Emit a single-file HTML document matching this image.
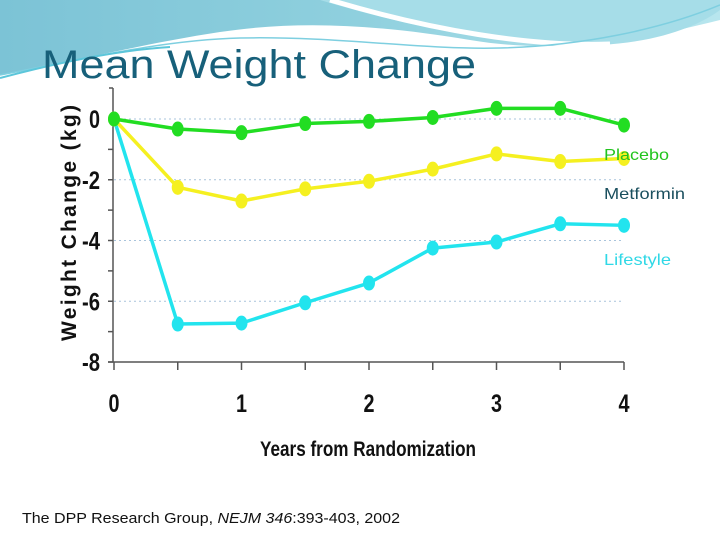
<!DOCTYPE html>
<html><head><meta charset="utf-8"><style>
html,body{margin:0;padding:0;background:#fff;}
svg{display:block;}
</style></head><body>
<svg width="720" height="540" viewBox="0 0 720 540" xmlns="http://www.w3.org/2000/svg">
  <defs>
    <linearGradient id="bg1" x1="0" y1="0" x2="1" y2="0">
      <stop offset="0" stop-color="#7cc3d6"/>
      <stop offset="0.5" stop-color="#8fd0de"/>
      <stop offset="1" stop-color="#b8e6ee"/>
    </linearGradient>
  </defs>
  <g>
    <path d="M0,0 H720 V20 C640,40 560,55 470,40 C380,25 300,20 220,32 C140,44 60,65 0,75 Z" fill="url(#bg1)"/>
    <path d="M320,0 C420,30 520,48 600,45 C660,42 700,25 720,10 V0 Z" fill="#a6dde8"/>
    <path d="M330,0 C430,30 530,47 610,44" stroke="#fff" stroke-width="5" fill="none"/>
    <path d="M0,75 C80,60 160,40 240,38 C340,36 420,50 500,48 C580,46 660,30 720,5" stroke="#7ecfe0" stroke-width="1.5" fill="none"/>
    <path d="M0,78 C60,62 120,50 170,47" stroke="#5cc6da" stroke-width="2" fill="none"/>
  </g>
  <text x="42" y="78" font-family="'Liberation Sans',sans-serif" font-size="40" fill="#17607a" textLength="434" lengthAdjust="spacingAndGlyphs">Mean Weight Change</text>

  <g id="chart"></g>

  <text x="22" y="523" font-family="'Liberation Sans',sans-serif" font-size="15" fill="#111" textLength="378" lengthAdjust="spacingAndGlyphs">The DPP Research Group, <tspan font-style="italic">NEJM 346</tspan>:393-403, 2002</text>
</svg>
<script>
const years = [0, 0.5, 1, 1.5, 2, 2.5, 3, 3.5, 4];
const placebo = [0, -0.33, -0.45, -0.15, -0.08, 0.05, 0.35, 0.35, -0.2];
const metformin = [0, -2.25, -2.7, -2.3, -2.05, -1.65, -1.15, -1.4, -1.3];
const lifestyle = [0, -6.75, -6.72, -6.05, -5.4, -4.25, -4.05, -3.45, -3.5];
const yTicks = [0, -2, -4, -6, -8];
const xTicks = [0, 1, 2, 3, 4];
const seriesNames = ["Placebo", "Metformin", "Lifestyle"];

const NS = "http://www.w3.org/2000/svg";
const g = document.getElementById("chart");
const X0 = 114, X1 = 624, Y0 = 119, Y8 = 362;
function xs(v){ return X0 + (v - 0) / 4 * (X1 - X0); }
function ys(v){ return Y0 + (0 - v) / 8 * (Y8 - Y0); }
function mk(tag, attrs){ const e = document.createElementNS(NS, tag); for (const k in attrs) e.setAttribute(k, attrs[k]); g.appendChild(e); return e; }

yTicks.slice(0, 4).forEach(t => {
  const l = mk("line", {x1: X0, x2: X1, y1: ys(t), y2: ys(t), stroke: "#a9c4dc", "stroke-width": 1, "stroke-dasharray": "2,3"});
  
  
});
const ya = mk("line", {x1: X0 - 1, x2: X0 - 1, y1: 88, y2: Y8, stroke: "#555", "stroke-width": 1.5});


const tl = mk("line", {x1: X0 - 5, x2: X0 - 1, y1: 88, y2: 88, stroke: "#555", "stroke-width": 1.5});


const xa = mk("line", {x1: X0 - 6, x2: X1, y1: Y8, y2: Y8, stroke: "#555", "stroke-width": 1.5});


for (let v = 0; v >= -8; v--) {
  const t = mk("line", {x1: X0 - 6, x2: X0 - 1, y1: ys(v), y2: ys(v), stroke: "#555", "stroke-width": 1.5});
  
  
}
years.forEach(v => {
  const t = mk("line", {x1: xs(v), x2: xs(v), y1: Y8, y2: Y8 + 8, stroke: "#555", "stroke-width": 1.5});
  
  
});
yTicks.forEach(t => {
  const s = String(t);
  const w = s.length === 1 ? 11 : 18;
  const e = mk("text", {x: 100 - w, y: ys(t) + 9, "font-family": "'Liberation Sans',sans-serif", "font-size": 25, "font-weight": "bold", fill: "#111", textLength: w, lengthAdjust: "spacingAndGlyphs"});
  e.textContent = s;
  
  
});
xTicks.forEach(t => {
  const e = mk("text", {x: xs(t) - 5.5, y: 412, "font-family": "'Liberation Sans',sans-serif", "font-size": 25, "font-weight": "bold", fill: "#111", textLength: 11, lengthAdjust: "spacingAndGlyphs"});
  e.textContent = t;
  
  
});
const xt = mk("text", {x: 260, y: 456, "font-family": "'Liberation Sans',sans-serif", "font-size": 21, "font-weight": "bold", fill: "#111", textLength: 216, lengthAdjust: "spacingAndGlyphs"});
xt.textContent = "Years from Randomization";


const yt = mk("text", {x: 0, y: 0, "font-family": "'Liberation Sans',sans-serif", "font-size": 21, "font-weight": "bold", fill: "#111", textLength: 236, lengthAdjust: "spacing", transform: "translate(76,341) rotate(-90)"});
yt.textContent = "Weight Change (kg)";



function drawSeries(vals, color, name){
  const pts = years.map((x, i) => xs(x) + "," + ys(vals[i])).join(" ");
  const pl = mk("polyline", {points: pts, fill: "none", stroke: color, "stroke-width": 3.5, "stroke-linejoin": "round"});
  
  
  years.forEach((x, i) => {
    const c = mk("ellipse", {cx: xs(x), cy: ys(vals[i]), rx: 6, ry: 7.5, fill: color});
    
    
  });
}
drawSeries(lifestyle, "#22e4ee", "lifestyle");
drawSeries(metformin, "#f5f020", "metformin");
drawSeries(placebo, "#22dd22", "placebo");

const labels = [[160, "#22c41e", 65], [199, "#1a4f5e", 81], [265, "#30d8e6", 67]];
labels.forEach((l, i) => {
  const e = mk("text", {x: 604, y: l[0], "font-family": "'Liberation Sans',sans-serif", "font-size": 16, fill: l[1], textLength: l[2], lengthAdjust: "spacingAndGlyphs"});
  e.textContent = seriesNames[i];
  
  
});
</script>
</body></html>
